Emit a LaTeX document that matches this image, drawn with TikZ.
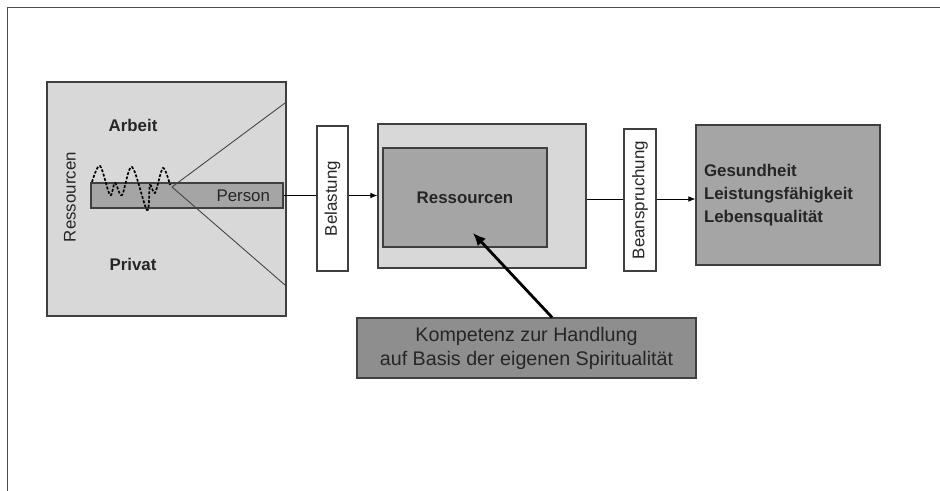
\documentclass[tikz,border=0pt]{standalone}
\usepackage{fontspec}
\setsansfont{Liberation Sans}
\usepackage{tikz}
\usetikzlibrary{arrows.meta, positioning}
\definecolor{framegray}{HTML}{4D4D4D}
\definecolor{boxborder}{HTML}{3F3F3F}
\definecolor{palegray}{HTML}{D8D8D8}
\definecolor{midgray}{HTML}{A5A5A5}
\definecolor{darkgray}{HTML}{8E8E8E}
\definecolor{inkgray}{HTML}{262626}

\begin{document}
\begin{tikzpicture}[
    base/.style={draw=boxborder, line width=0.8pt, inner sep=0pt,
      font=\sffamily\fontsize{12}{14}\selectfont, text=inkgray},
    field/.style ={base, fill=palegray},
    core/.style  ={base, fill=midgray},
    strip/.style ={base, fill=white, rotate=90},
    skill/.style ={base, fill=darkgray, align=center,
      font=\sffamily\fontsize{14}{17}\selectfont},
    result/.style={base, fill=midgray, align=left, text width=4.2cm,
      font=\sffamily\bfseries\fontsize{12}{16.3}\selectfont},
    areatext/.style={font=\sffamily\bfseries\fontsize{12}{14}\selectfont, text=inkgray},
    flow/.style={line width=0.6pt, color=black},
    arrow/.style={flow, -{Latex[length=5pt, width=4pt]}},
    bigarrow/.style={line width=2pt, color=black, -{Latex[length=9pt, width=8pt]}},
]
\useasboundingbox (0, 0) rectangle (23.5, -12.275);
% frame (only top and left edges visible)
\draw[framegray, line width=1.2pt] (0.1875, -12.275) -- (0.1875, -0.1875) -- (23.5, -0.1875);

% left block: work / private
\node[field, minimum width=5.975cm, minimum height=5.85cm] (umfeld) at (4.1625, -4.975) {};
\node[areatext] (arbeit) at (3.325, -3.125) {Arbeit};
\node[areatext] (privat) at (3.325, -6.6) {Privat};
\node[font=\sffamily\fontsize{12}{14}\selectfont, text=inkgray, rotate=90] (quellen) at (1.75, -4.925) {Ressourcen};
\node[core, minimum width=4.8cm, minimum height=0.625cm, text width=4.15cm,
    inner xsep=0.325cm, align=right] (person) at (4.675, -4.8875) {Person};
\coordinate (spitze) at (4.3, -4.675);
\draw[boxborder, line width=0.6pt] (spitze) -- (7.125, -2.575);
\draw[boxborder, line width=0.6pt] (spitze) -- (7.125, -7.125);
\draw[black, line width=1.2pt, dash pattern=on 2pt off 1.2pt] plot[smooth, tension=0.55] coordinates {
    (2.3,-4.55) (2.5,-4.15) (2.75,-4.875) (2.875,-4.575) (3.05,-4.875) (3.3,-4.175)
    (3.675,-5.25) (3.75,-4.625) (3.875,-4.825) (4.075,-4.2) (4.25,-4.625)};

% middle
\node[strip, minimum width=3.625cm, minimum height=0.775cm] (belastung) at (8.3125, -4.9625) {Belastung};
\node[field, minimum width=5.2cm, minimum height=3.6cm] (puffer) at (12.05, -4.9) {};
\node[core, minimum width=4.1cm, minimum height=2.475cm, font=\sffamily\bfseries\fontsize{12}{14}\selectfont] (ressourcen) at (11.625, -4.9375) {Ressourcen};
\node[strip, minimum width=3.55cm, minimum height=0.8cm] (beanspruchung) at (16.0, -5.0) {Beanspruchung};
\node[result, minimum width=4.6cm, minimum height=3.5cm, inner xsep=0.2cm] (ergebnis) at (19.7, -4.875)
    {Gesundheit\\Leistungsfähigkeit\\Lebensqualität};
\node[skill, minimum width=8.475cm, minimum height=1.5cm] (kompetenz) at (13.1625, -8.7)
    {Kompetenz zur Handlung\\auf Basis der eigenen Spiritualität};
\coordinate (ziel) at (11.825, -5.825);

% connectors (rotated strips: north = left side, south = right side)
\draw[flow] (person.east) -- (person.east -| belastung.north);
\draw[arrow] (belastung.south |- person.east) -- (person.east -| puffer.west);
\draw[flow] (puffer.east |- 0,-4.975) -- (beanspruchung.north |- 0,-4.975);
\draw[arrow] (beanspruchung.south |- 0,-4.975) -- (ergebnis.west |- 0,-4.975);
\draw[bigarrow] ([xshift=0.64cm]kompetenz.north) -- (ziel);
\end{tikzpicture}
\end{document}
